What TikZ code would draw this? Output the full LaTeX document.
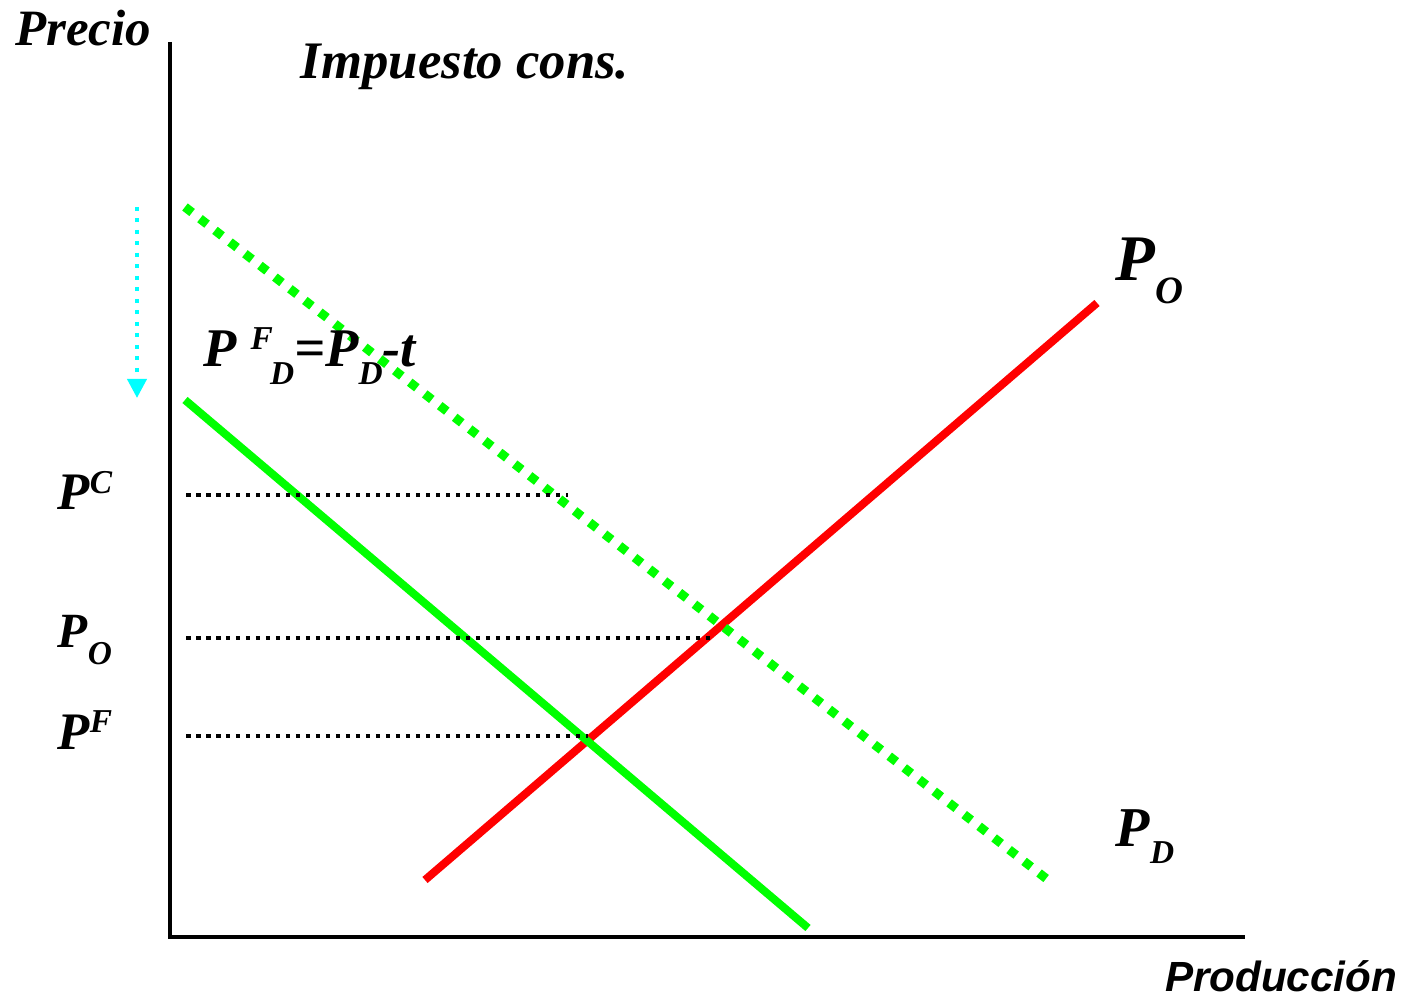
\documentclass[tikz,border=0pt]{standalone}
\usepackage{fontspec}
\setmainfont{Liberation Serif}
\setsansfont{Liberation Sans}
\usepackage{tikz}
\usetikzlibrary{positioning, arrows.meta}

\definecolor{lime}{RGB}{0,255,0}
\definecolor{aqua}{RGB}{0,255,255}
\newcommand{\lbl}[1]{\fontsize{#1}{#1}\selectfont\bfseries\itshape}
% lowered / raised index: #1 shift, #2 size, #3 text
\newcommand{\dn}[3]{\raisebox{-#1}{\lbl{#2}#3}}
\newcommand{\up}[3]{\raisebox{#1}{\lbl{#2}#3}}

\begin{document}
\begin{tikzpicture}[
  axis/.style={line width=0.04cm},
  curve/.style={line width=0.08cm},
  guide/.style={line width=0.045cm, dash pattern=on 0.045cm off 0.055cm},
  lab/.style={inner sep=0pt, anchor=base west}
]
\useasboundingbox (0,0) rectangle (14.06,9.97);

% axes
\coordinate (orig) at (1.70,0.60);
\coordinate (ytop) at (1.70,9.55);
\coordinate (xend) at (12.45,0.60);
\draw[axis] (ytop) -- (orig) -- (xend);
\node (precio) [inner sep=0pt] at (0.83,9.69) {\lbl{14.5}Precio};
\node (prod) [inner sep=0pt] at (12.81,0.21) {\fontsize{12}{12}\selectfont\sffamily\bfseries\itshape Producción};
\node (title) [inner sep=0pt] at (4.65,9.30) {\lbl{15}Impuesto cons.};

% oferta
\coordinate (s1) at (4.25,1.17);
\coordinate (s2) at (10.97,6.94);
\draw[curve, red] (s1) -- (s2);
\node (po) [lab] at (11.15,7.16) {\lbl{18.5}P\dn{6.3pt}{11}{O}};

% demanda original
\coordinate (d1) at (1.85,7.90);
\coordinate (d2) at (10.48,1.17);
\draw[lime, line width=0.09cm, dash pattern=on 0.09cm off 0.10cm] (d1) -- (d2);
\node (pd) [lab] at (11.15,1.50) {\lbl{16}P\dn{4.8pt}{9.5}{D}};

% demanda con impuesto
\coordinate (f1) at (1.85,5.97);
\coordinate (f2) at (8.08,0.69);
\draw[curve, lime] (f1) -- (f2);
\node (pfd) [lab] at (2.03,6.30)
  {\lbl{15.5}P\kern0.25em\up{5.1pt}{9.5}{F}\kern-0.05em\dn{5.1pt}{9.5}{D}=P\dn{5.1pt}{9.5}{D}-t};

% desplazamiento
\coordinate (a1) at (1.37,7.90);
\coordinate (a2) at (1.37,5.99);
\draw[aqua, line width=0.04cm, dash pattern=on 0.04cm off 0.075cm,
  -{Triangle[width=0.19cm, length=0.19cm]}] (a1) -- (a2);

% precios
\coordinate (pc0) at (1.86,5.02);
\coordinate (pc1) at (5.68,5.02);
\coordinate (po0) at (1.86,3.59);
\coordinate (po1) at (7.13,3.59);
\coordinate (pf0) at (1.86,2.61);
\coordinate (pf1) at (5.88,2.61);
\draw[guide] (pc0) -- (pc1);
\draw[guide] (po0) -- (po1);
\draw[guide] (pf0) -- (pf1);
\node (lpc) [lab] at (0.57,4.87) {\lbl{15}P\up{4.8pt}{9.5}{C}};
\node (lpo) [lab] at (0.57,3.49) {\lbl{14}P\dn{4.8pt}{9.5}{O}};
\node (lpf) [lab] at (0.57,2.47) {\lbl{15}P\up{5.1pt}{9.5}{F}};
\end{tikzpicture}
\end{document}
